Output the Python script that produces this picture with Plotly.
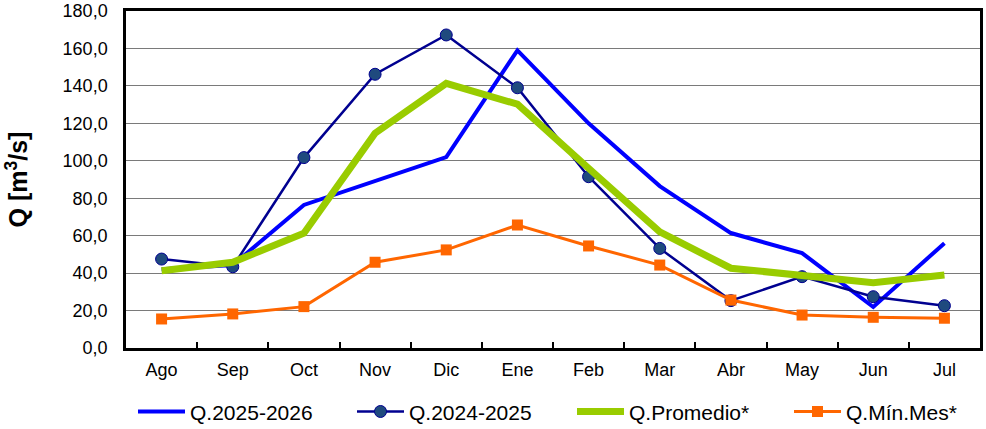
import plotly.graph_objects as go

# meses (año hidrológico Ago-Jul)
meses = ['Ago', 'Sep', 'Oct', 'Nov', 'Dic', 'Ene', 'Feb', 'Mar', 'Abr', 'May', 'Jun', 'Jul']

# caudales [m3/s]
q_2025_2026 = [42.0, 44.3, 76.4, 89.0, 102.0, 159.0, 120.0, 86.5, 61.4, 50.7, 21.9, 56.0]
q_2024_2025 = [47.5, 43.4, 101.7, 146.2, 167.2, 139.0, 91.5, 53.2, 25.3, 38.1, 27.4, 22.6]
q_promedio = [41.3, 45.8, 61.3, 114.7, 141.4, 130.2, 96.0, 62.0, 42.6, 38.5, 34.9, 39.0]
q_min_mes = [15.5, 18.2, 22.1, 45.8, 52.4, 65.7, 54.5, 44.3, 25.6, 17.6, 16.4, 15.9]

ticks_y = [0, 20, 40, 60, 80, 100, 120, 140, 160, 180]
ticks_y_txt = ['0,0', '20,0', '40,0', '60,0', '80,0', '100,0', '120,0', '140,0', '160,0', '180,0']

fuente = 'Liberation Sans, Arial, sans-serif'

fig = go.Figure()

fig.add_trace(go.Scatter(x=meses, y=q_2025_2026, name='Q.2025-2026', mode='lines',
                         line=dict(color='#0000FF', width=4), legend='legend'))
fig.add_trace(go.Scatter(x=meses, y=q_2024_2025, name='Q.2024-2025', mode='lines+markers',
                         line=dict(color='#000090', width=2.5),
                         marker=dict(symbol='circle', size=12, color='#1F4A7E',
                                     line=dict(color='#000090', width=1)),
                         legend='legend2'))
fig.add_trace(go.Scatter(x=meses, y=q_promedio, name='Q.Promedio*', mode='lines',
                         line=dict(color='#99CC00', width=7), legend='legend3'))
fig.add_trace(go.Scatter(x=meses, y=q_min_mes, name='Q.Mín.Mes*', mode='lines+markers',
                         line=dict(color='#FF6600', width=3),
                         marker=dict(symbol='square', size=11, color='#FF6600'),
                         legend='legend4'))

# una leyenda por serie, en fila bajo el gráfico
def leyenda(x):
    return dict(orientation='h', xref='container', yref='container',
                x=x, xanchor='left', y=0.04, yanchor='middle',
                font=dict(size=21), itemwidth=47, bgcolor='rgba(0,0,0,0)')

fig.update_layout(
    width=986, height=429,
    margin=dict(l=126, r=6, t=11, b=81, autoexpand=False),
    plot_bgcolor='white',
    paper_bgcolor='white',
    font=dict(family=fuente, size=18, color='black'),
    showlegend=True,
    legend=leyenda(133 / 986),
    legend2=leyenda(352 / 986),
    legend3=leyenda(572 / 986),
    legend4=leyenda(789 / 986),
)

fig.update_xaxes(
    type='category', automargin=False, range=[-0.5, len(meses) - 0.5],
    showline=True, linecolor='black', linewidth=2.5, mirror=True,
    ticks='inside', tickson='boundaries', ticklen=6, tickcolor='black', tickwidth=2,
    showgrid=False, ticklabelstandoff=4,
    tickfont=dict(size=18),
)

fig.update_yaxes(
    range=[0, 180], automargin=False,
    tickvals=ticks_y, ticktext=ticks_y_txt,
    showline=True, linecolor='black', linewidth=2.5, mirror=True,
    showgrid=True, gridcolor='#7a7a7a', gridwidth=1,
    ticks='', tickfont=dict(size=18), ticklabelstandoff=12,
    zeroline=False,
    title=dict(text='<b>Q [m<sup>3</sup>/s]</b>', font=dict(size=25), standoff=28),
)

fig.write_html('out.html', config={'displayModeBar': False},
               post_script="document.body.style.margin='0';")
